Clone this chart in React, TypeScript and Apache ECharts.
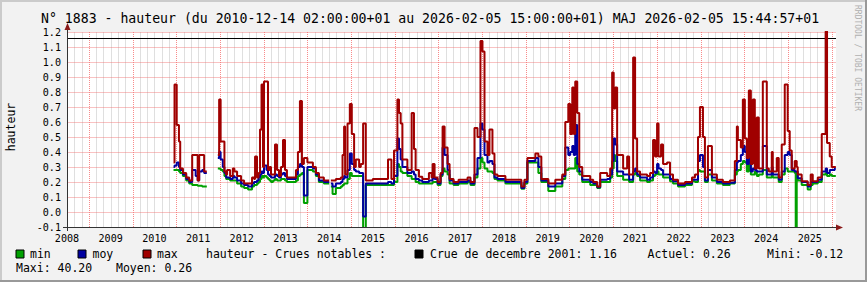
import React, { useEffect, useRef } from 'react';
import * as echarts from 'echarts';

// decimal years (time of each reading)
const years = [
  2010.938, 2010.961, 2011.011, 2011.062, 2011.091, 2011.153, 2011.228, 2011.297, 2011.365, 2011.445,
  2011.491, 2011.525, 2011.594, 2011.639, 2011.662, 2011.700,
  2011.952, 2011.982, 2012.016, 2012.066, 2012.103, 2012.142, 2012.164, 2012.233, 2012.295, 2012.331,
  2012.393, 2012.484, 2012.553, 2012.644, 2012.735, 2012.781, 2012.804, 2012.849, 2012.884, 2012.918,
  2012.952, 2012.986, 2013.009, 2013.066, 2013.100, 2013.135, 2013.169, 2013.215, 2013.260, 2013.306,
  2013.352, 2013.397, 2013.443, 2013.489, 2013.534, 2013.740, 2013.785, 2013.831, 2013.877, 2013.922,
  2014.002, 2014.128, 2014.196, 2014.265, 2014.379, 2014.470, 2014.500,
  2014.539, 2014.578, 2014.653, 2014.767, 2014.806, 2014.842, 2014.865, 2014.920, 2014.973, 2015.018,
  2015.071, 2015.110, 2015.186, 2015.224, 2015.277, 2015.338, 2015.498, 2015.847, 2015.925, 2015.984,
  2016.062, 2016.098, 2016.137, 2016.176, 2016.290, 2016.388, 2016.441, 2016.479, 2016.555, 2016.632,
  2016.783, 2016.845, 2016.868, 2016.913, 2016.982, 2017.050, 2017.096, 2017.142, 2017.210, 2017.256,
  2017.347, 2017.461, 2017.667, 2017.735, 2017.826, 2017.895, 2017.963, 2018.009, 2018.055, 2018.123,
  2018.169, 2018.237, 2018.283, 2018.352, 2018.534, 2018.900, 2018.968, 2019.037, 2019.219, 2019.288,
  2019.356, 2019.516, 2019.676, 2019.836, 2019.904, 2019.973, 2020.018, 2020.064, 2020.098, 2020.132,
  2020.178, 2020.224, 2020.292, 2020.475, 2020.543, 2020.635, 2020.703, 2020.863, 2020.932, 2020.977,
  2021.012, 2021.046, 2021.091, 2021.228, 2021.320, 2021.365, 2021.457, 2021.502, 2021.548, 2021.616,
  2021.776, 2021.845, 2021.913, 2021.959, 2022.005, 2022.039, 2022.096, 2022.142, 2022.233, 2022.301,
  2022.370, 2022.484, 2022.644, 2022.804, 2022.872, 2022.941, 2022.986, 2023.055, 2023.100, 2023.169,
  2023.260, 2023.374, 2023.511, 2023.671, 2023.785, 2023.831, 2023.854, 2023.922, 2023.968, 2024.014,
  2024.059, 2024.105, 2024.151, 2024.196, 2024.242, 2024.288, 2024.333, 2024.425, 2024.516, 2024.562,
  2024.630, 2024.653, 2024.744, 2024.790, 2024.858, 2024.927, 2024.995, 2025.041, 2025.087, 2025.155,
  2025.178, 2025.201, 2025.224, 2025.315, 2025.452, 2025.521, 2025.568, 2025.683, 2025.774, 2025.865,
  2025.895, 2025.957, 2026.002, 2026.071, 2026.096,
];

const minVals = [
  0.28, 0.28, 0.28, 0.27, 0.26, 0.24, 0.21, 0.19, 0.18, 0.18,
  0.175, 0.175, 0.17, 0.17, 0.17, null,
  0.29, 0.29, 0.28, 0.27, 0.24, 0.22, 0.22, 0.21, 0.21, 0.21,
  0.19, 0.17, 0.16, 0.15, 0.17, 0.18, 0.18, 0.19, 0.20, 0.22,
  0.24, 0.23, 0.24, 0.23, 0.22, 0.21, 0.20, 0.21, 0.22, 0.21,
  0.21, 0.22, 0.22, 0.21, 0.20, 0.21, 0.24, 0.25, 0.26, 0.06,
  0.28, 0.27, 0.24, 0.20, 0.19, 0.19, null,
  0.17, 0.12, 0.16, 0.17, 0.18, 0.19, 0.19, 0.22, 0.26, 0.24,
  0.24, 0.24, 0.24, 0.24, -0.12, 0.18, 0.18, 0.18, 0.18, 0.20,
  0.32, 0.30, 0.27, 0.26, 0.24, 0.22, 0.22, 0.20, 0.19, 0.19,
  0.19, 0.19, 0.20, 0.20, 0.18, 0.24, 0.29, 0.27, 0.25, 0.19,
  0.18, 0.19, 0.20, 0.18, 0.23, 0.29, 0.36, 0.33, 0.29, 0.27,
  0.27, 0.26, 0.22, 0.21, 0.19, 0.155, 0.19, 0.33, 0.33, 0.26,
  0.20, 0.14, 0.17, 0.22, 0.28, 0.29, 0.29, 0.29, 0.29, 0.36,
  0.27, 0.25, 0.20, 0.18, 0.18, 0.16, 0.20, 0.20, 0.23, 0.29,
  0.38, 0.34, 0.24, 0.215, 0.215, 0.20, 0.25, 0.26, 0.24, 0.21,
  0.20, 0.21, 0.24, 0.25, 0.27, 0.25, 0.25, 0.23, 0.23, 0.205,
  0.19, 0.17, 0.18, 0.205, 0.20, 0.28, 0.27, 0.27, 0.20, 0.25,
  0.21, 0.19, 0.18, 0.19, 0.25, 0.27, 0.28, 0.32, 0.34, 0.33,
  0.27, 0.35, 0.25, 0.25, 0.27, 0.24, 0.25, 0.28, 0.23, 0.23,
  0.26, 0.23, 0.23, 0.20, 0.25, 0.29, 0.27, 0.27, 0.27, 0.26,
  -0.12, 0.26, 0.21, 0.18, 0.15, 0.18, 0.19, 0.20, 0.25, 0.26,
  0.24, 0.25, 0.24, 0.24, 0.24,
];

const moyVals = [
  0.30, 0.31, 0.33, 0.30, 0.28, 0.25, 0.22, 0.20, 0.28, 0.24,
  0.21, 0.27, 0.28, 0.26, 0.26, null,
  0.36, 0.40, 0.35, 0.30, 0.26, 0.23, 0.23, 0.22, 0.24, 0.23,
  0.21, 0.19, 0.18, 0.17, 0.19, 0.20, 0.20, 0.21, 0.23, 0.25,
  0.27, 0.26, 0.31, 0.28, 0.25, 0.24, 0.23, 0.23, 0.25, 0.24,
  0.23, 0.25, 0.26, 0.24, 0.22, 0.25, 0.30, 0.32, 0.30, 0.11,
  0.30, 0.29, 0.25, 0.21, 0.20, 0.20, null,
  0.19, 0.17, 0.19, 0.20, 0.22, 0.24, 0.23, 0.28, 0.39, 0.32,
  0.28, 0.27, 0.26, 0.26, -0.03, 0.19, 0.19, 0.20, 0.19, 0.24,
  0.49, 0.42, 0.35, 0.30, 0.26, 0.27, 0.25, 0.22, 0.21, 0.20,
  0.21, 0.21, 0.23, 0.22, 0.19, 0.25, 0.43, 0.38, 0.28, 0.21,
  0.19, 0.20, 0.21, 0.19, 0.25, 0.36, 0.59, 0.55, 0.38, 0.33,
  0.34, 0.32, 0.23, 0.22, 0.20, 0.16, 0.20, 0.34, 0.36, 0.30,
  0.21, 0.17, 0.19, 0.24, 0.43, 0.38, 0.40, 0.44, 0.38, 0.58,
  0.32, 0.27, 0.215, 0.20, 0.19, 0.165, 0.215, 0.22, 0.25, 0.34,
  0.49, 0.45, 0.27, 0.25, 0.25, 0.215, 0.27, 0.29, 0.25, 0.23,
  0.215, 0.23, 0.27, 0.26, 0.32, 0.29, 0.28, 0.25, 0.25, 0.22,
  0.205, 0.18, 0.19, 0.215, 0.215, 0.34, 0.38, 0.30, 0.21, 0.28,
  0.23, 0.20, 0.19, 0.195, 0.28, 0.33, 0.34, 0.38, 0.44, 0.40,
  0.32, 0.41, 0.27, 0.29, 0.28, 0.27, 0.27, 0.44, 0.25, 0.25,
  0.30, 0.25, 0.25, 0.215, 0.27, 0.38, 0.40, 0.38, 0.28, 0.27,
  0.27, 0.27, 0.225, 0.20, 0.17, 0.20, 0.20, 0.215, 0.27, 0.29,
  0.26, 0.28, 0.28, 0.29, 0.29,
];

const maxVals = [
  0.33, 0.85, 0.58, 0.47, 0.29, 0.26, 0.23, 0.21, 0.38, 0.38,
  0.21, 0.38, 0.38, 0.27, 0.27, null,
  0.38, 0.75, 0.47, 0.47, 0.27, 0.25, 0.28, 0.24, 0.29, 0.27,
  0.24, 0.21, 0.19, 0.19, 0.23, 0.22, 0.37, 0.23, 0.26, 0.55,
  0.85, 0.30, 0.87, 0.87, 0.28, 0.30, 0.25, 0.25, 0.45, 0.28,
  0.24, 0.30, 0.48, 0.28, 0.23, 0.28, 0.40, 0.74, 0.32, 0.36,
  0.33, 0.30, 0.26, 0.23, 0.21, 0.21, null,
  0.21, 0.21, 0.22, 0.23, 0.38, 0.57, 0.25, 0.59, 0.72, 0.52,
  0.30, 0.35, 0.30, 0.32, 0.59, 0.21, 0.22, 0.35, 0.22, 0.41,
  0.75, 0.66, 0.59, 0.35, 0.28, 0.66, 0.42, 0.28, 0.235, 0.22,
  0.26, 0.23, 0.32, 0.23, 0.20, 0.26, 0.57, 0.43, 0.32, 0.22,
  0.20, 0.215, 0.23, 0.20, 0.56, 0.50, 1.14, 1.07, 0.47, 0.38,
  0.55, 0.39, 0.25, 0.24, 0.215, 0.17, 0.215, 0.36, 0.39, 0.37,
  0.22, 0.19, 0.215, 0.25, 0.60, 0.72, 0.52, 0.83, 0.52, 0.87,
  0.66, 0.30, 0.24, 0.215, 0.20, 0.17, 0.26, 0.24, 0.29, 0.93,
  0.69, 0.83, 0.38, 0.29, 0.37, 0.25, 1.03, 0.49, 0.27, 0.25,
  0.24, 0.26, 0.48, 0.37, 0.59, 0.37, 0.45, 0.32, 0.33, 0.25,
  0.215, 0.19, 0.20, 0.23, 0.25, 0.50, 0.70, 0.50, 0.23, 0.44,
  0.25, 0.215, 0.20, 0.21, 0.34, 0.57, 0.48, 0.43, 0.75, 0.49,
  0.36, 0.81, 0.32, 0.75, 0.29, 0.63, 0.29, 0.87, 0.29, 0.27,
  0.40, 0.27, 0.36, 0.23, 0.45, 0.85, 0.54, 0.41, 0.29, 0.34,
  0.34, 0.30, 0.25, 0.205, 0.18, 0.25, 0.205, 0.23, 0.52, 1.30,
  0.46, 0.37, 0.30, 0.30, 0.30,
];

const crueLabel = 'Crue de decembre 2001';
const crueLevel = 1.16;
const statsRow1 = ['Actuel: 0.26', 'Mini: -0.12'];
const statsRow2 = ['Maxi: 40.20', 'Moyen: 0.26'];
const titleText = 'N° 1883 - hauteur (du 2010-12-14 02:00:00+01 au 2026-02-05 15:00:00+01) MAJ 2026-02-05 15:44:57+01';

const FONT = 'DejaVu Sans Mono';
const GREEN = '#00a000';
const BLUE = '#0000a0';
const RED = '#a00000';
const MAJOR = 'rgba(245,90,90,0.7)';
const MAJOR_SOFT = 'rgba(240,110,110,0.42)';
const MINOR_SOFT = 'rgba(140,140,140,0.28)';

export default function App() {
  const ref = useRef<HTMLDivElement>(null);
  useEffect(() => {
    if (!ref.current) return;
    const chart = echarts.init(ref.current, null, { renderer: 'svg' });
    const mk = (vals: (number | null)[]) => years.map((t, i) => [t, vals[i] === null ? '-' : vals[i]]);

    // vertical grid positions every two months: [time, isMajor]
    const vItems: number[][] = [];
    for (let k = 0; k < 130; k++) {
      const t = 2008 + k / 6;
      if (t <= 2008.51 || t >= 2026.09) continue;
      vItems.push([t, k % 6 === 0 ? 1 : 0]);
    }
    // horizontal grid positions
    const hItems: number[][] = [];
    for (let k = 1; k <= 13; k++) hItems.push([2010, Math.round((-0.1 + k * 0.1) * 10) / 10]);

    const lineSeries = (name: string, vals: (number | null)[], color: string, z: number) => ({
      name,
      type: 'line',
      data: mk(vals),
      step: 'end',
      showSymbol: false,
      symbol: 'none',
      connectNulls: false,
      clip: true,
      z,
      lineStyle: { color, width: 2 },
      itemStyle: { color },
    });

    const legendText = (text: string, x: number, y: number) => ({
      type: 'text',
      x,
      y,
      style: { text, fill: '#000', font: `11.5px "${FONT}"`, verticalAlign: 'middle', align: 'left' },
    });
    const legendBox = (x: number, y: number, color: string) => ({
      type: 'rect',
      shape: { x, y, width: 8, height: 8 },
      style: { fill: color, stroke: '#000', lineWidth: 1 },
    });

    chart.setOption({
      animation: false,
      backgroundColor: '#f2f2f2',
      grid: {
        left: 67,
        top: 32,
        right: 31,
        bottom: 55,
        show: true,
        backgroundColor: '#ffffff',
        borderWidth: 0,
      },
      xAxis: {
        type: 'value',
        min: 2008.5,
        max: 2026.1,
        interval: 1,
        axisLine: { show: false },
        axisTick: { show: false },
        splitLine: { show: false },
        axisLabel: {
          margin: 6,
          showMaxLabel: false,
          color: '#000',
          fontFamily: FONT,
          fontSize: 10.1,
          formatter: (v: number) => (v > 2025.9 ? '' : String(Math.floor(v))),
        },
      },
      yAxis: {
        type: 'value',
        min: -0.1,
        max: 1.2,
        interval: 0.1,
        axisLine: { show: false },
        axisTick: { show: false },
        axisLabel: {
          margin: 6,
          color: '#000',
          fontFamily: FONT,
          fontSize: 10.1,
          formatter: (v: number) => v.toFixed(1),
        },
        splitLine: { show: false },
      },
      series: [
        {
          type: 'custom',
          name: 'vgrid',
          z: 1,
          silent: true,
          data: vItems,
          renderItem: (params: any, api: any) => {
            const cs = params.coordSys;
            const major = api.value(1) === 1;
            const p = api.coord([api.value(0), 0.5]);
            const x = Math.round(p[0]) + 0.5;
            return {
              type: 'line',
              shape: { x1: x, y1: cs.y, x2: x, y2: cs.y + cs.height },
              style: major
                ? { stroke: MAJOR, lineWidth: 1, lineDash: [1, 1] }
                : { stroke: MINOR_SOFT, lineWidth: 1 },
            };
          },
        },
        {
          type: 'custom',
          name: 'hgrid',
          z: 1,
          silent: true,
          data: hItems,
          renderItem: (params: any, api: any) => {
            const cs = params.coordSys;
            const p = api.coord([api.value(0), api.value(1)]);
            const y = Math.round(p[1]) + 0.5;
            return {
              type: 'line',
              shape: { x1: cs.x, y1: y, x2: cs.x + cs.width, y2: y },
              style: { stroke: MAJOR_SOFT, lineWidth: 1 },
            };
          },
        },
        {
          type: 'custom',
          name: 'crue',
          z: 2,
          silent: true,
          data: [[2010, crueLevel]],
          renderItem: (params: any, api: any) => {
            const cs = params.coordSys;
            const p = api.coord([api.value(0), api.value(1)]);
            const y = Math.round(p[1]) + 0.5;
            return {
              type: 'line',
              shape: { x1: cs.x, y1: y, x2: cs.x + cs.width, y2: y },
              style: { stroke: '#000', lineWidth: 1 },
            };
          },
        },
        lineSeries('min', minVals, GREEN, 3),
        lineSeries('moy', moyVals, BLUE, 4),
        lineSeries('max', maxVals, RED, 5),
      ],
      graphic: [
        { type: 'rect', shape: { x: 0, y: 0, width: 867, height: 2 }, style: { fill: '#cbcbcb' }, z: 100 },
        { type: 'rect', shape: { x: 0, y: 0, width: 2, height: 282 }, style: { fill: '#cbcbcb' }, z: 100 },
        { type: 'rect', shape: { x: 0, y: 280, width: 867, height: 2 }, style: { fill: '#999999' }, z: 100 },
        { type: 'rect', shape: { x: 865, y: 0, width: 2, height: 282 }, style: { fill: '#999999' }, z: 100 },
        { type: 'line', shape: { x1: 67.5, y1: 231, x2: 67.5, y2: 27 }, style: { stroke: '#333', lineWidth: 1 }, z: 50 },
        { type: 'line', shape: { x1: 63, y1: 227.5, x2: 838, y2: 227.5 }, style: { stroke: '#333', lineWidth: 1 }, z: 50 },
        { type: 'polygon', shape: { points: [[64.5, 30], [70.5, 30], [67.5, 23]] }, style: { fill: '#8b1a1a' }, z: 51 },
        { type: 'polygon', shape: { points: [[836, 224.5], [836, 230.5], [843, 227.5]] }, style: { fill: '#8b1a1a' }, z: 51 },
        {
          type: 'text',
          x: 41,
          y: 18,
          style: { text: titleText, fill: '#000', font: `13.2px "${FONT}"`, verticalAlign: 'middle', align: 'left' },
        },
        {
          type: 'text',
          x: 11,
          y: 127,
          rotation: Math.PI / 2,
          style: { text: 'hauteur', fill: '#000', font: `11.5px "${FONT}"`, verticalAlign: 'middle', align: 'center' },
        },
        {
          type: 'text',
          x: 857,
          y: 5,
          rotation: -Math.PI / 2,
          style: { text: 'RRDTOOL / TOBI OETIKER', fill: '#b0b0b0', font: `8px "${FONT}"`, verticalAlign: 'middle', align: 'left' },
        },
        legendBox(16, 250, GREEN),
        legendText('min', 30, 254),
        legendBox(78, 250, BLUE),
        legendText('moy', 92.5, 254),
        legendBox(143, 250, RED),
        legendText('max', 157, 254),
        legendText('hauteur - Crues notables :', 206, 254),
        legendBox(415, 250, '#000'),
        legendText(`${crueLabel}: ${crueLevel.toFixed(2)}`, 430, 254),
        legendText(statsRow1[0], 647.5, 254),
        legendText(statsRow1[1], 767, 254),
        legendText(statsRow2[0], 16, 268),
        legendText(statsRow2[1], 116, 268),
      ],
    });
    return () => chart.dispose();
  }, []);
  return <div ref={ref} style={{ position: 'fixed', left: 0, top: 0, width: 867, height: 282 }} />;
}
